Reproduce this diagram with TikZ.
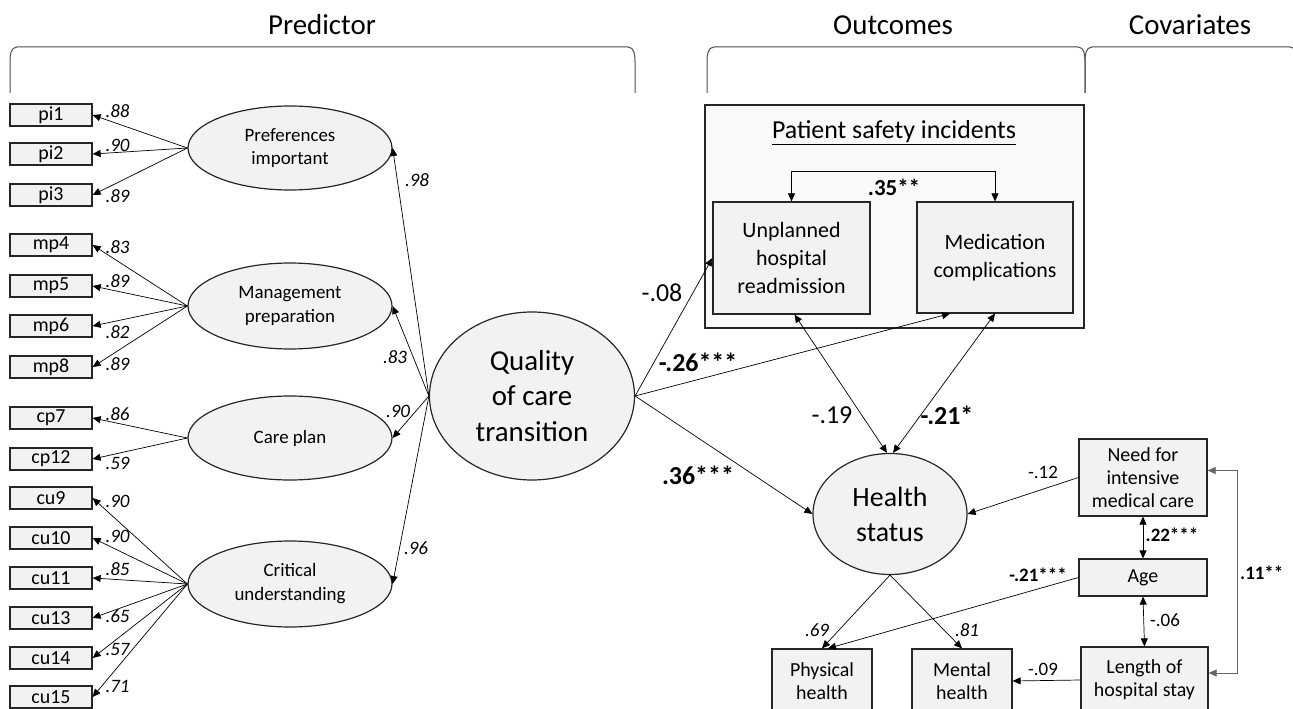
\documentclass[tikz,border=0pt]{standalone}
\usepackage{fontspec}
\setmainfont{Carlito}
\usetikzlibrary{shapes.geometric,arrows.meta,calc}

\begin{document}
\begin{tikzpicture}[x=1bp,y=-1bp,>={Triangle[length=8bp,width=7bp]},
	ind/.style={draw=black!85,line width=1.2bp,fill=black!5,minimum width=82bp,minimum height=22bp,inner sep=0pt,font=\fontsize{20}{22}\selectfont},
	lat/.style={ellipse,draw=black!85,line width=1.2bp,fill=black!5,minimum width=204bp,minimum height=84bp,inner sep=0pt,align=center,font=\fontsize{19}{24}\selectfont},
	obs/.style={draw=black!85,line width=1.2bp,fill=black!5,inner sep=0pt,align=center,font=\fontsize{20}{23}\selectfont},
	load/.style={font=\fontsize{19}{21}\selectfont\itshape,inner sep=0pt},
	coef/.style={font=\fontsize{19}{22}\selectfont,inner sep=0pt},
	bigcoef/.style={font=\fontsize{26}{30}\selectfont,inner sep=0pt},
	head/.style={font=\fontsize{29}{34}\selectfont,anchor=base,inner sep=0pt},
	bracket/.style={draw=black!70,line width=1bp},
	arr/.style={->,line width=0.7bp},
	dbl/.style={<->,line width=0.7bp}]
	\useasboundingbox (0,0) rectangle (1293,709);

	% headings
	\node[head] (hpred) at (322,35) {Predictor};
	\node[head] (hout) at (893,35) {Outcomes};
	\node[head] (hcov) at (1190,35) {Covariates};
	\draw[bracket] (10,93) -- (10,62) to[out=90,in=180] (17,47) -- (628,47) to[out=0,in=90] (635,62) -- (635,93);
	\draw[bracket] (707,93) -- (707,62) to[out=90,in=180] (714,47) -- (1078,47) to[out=0,in=90] (1085,62) -- (1085,93);
	\draw[bracket] (1085,93) -- (1085,62) to[out=90,in=180] (1092,47) -- (1290,47) to[out=0,in=90] (1297,62) -- (1297,93);

	% measurement model
	\foreach \ind/\y in {pi1/115,pi2/154,pi3/195,mp4/245,mp5/286,mp6/326,mp8/367,cp7/418,cp12/459,cu9/498,cu10/538,cu11/578,cu13/618,cu14/658,cu15/697}
		\node[ind] (\ind) at (51,\y) {\ind};
	\node[lat] (pref) at (290,148) {Preferences\\important};
	\node[lat,minimum height=86bp] (mana) at (290,306) {Management\\preparation};
	\node[lat] (care) at (290,438) {Care plan};
	\node[lat,minimum height=86bp] (crit) at (290,584) {Critical\\understanding};
	\foreach \fac/\ind/\val/\dy in {pref/pi1/.88/-4,pref/pi2/.90/-9,pref/pi3/.89/1,mana/mp4/.83/2,mana/mp5/.89/-5,mana/mp6/.82/6,mana/mp8/.89/-3,care/cp7/.86/-4,care/cp12/.59/4,crit/cu9/.90/3,crit/cu10/.90/-2,crit/cu11/.85/-9,crit/cu13/.65/-2,crit/cu14/.57/-9,crit/cu15/.71/-11}{
		\draw[arr] (\fac.west) -- (\ind.east);
		\node[load] (l\ind) at ($(\ind.east)+(25,\dy)$) {\val};
	}

	\node[lat,minimum width=205bp,minimum height=168bp,font=\fontsize{29}{36}\selectfont] (qct) at (532,396) {Quality\\of care\\transition};
	\draw[arr] (qct.west) -- (pref.east);
	\draw[arr] (qct.west) -- (mana.east);
	\draw[arr] (qct.west) -- (care.east);
	\draw[arr] (qct.west) -- (crit.east);
	\node[load] (lpref) at (417,180) {.98};
	\node[load] (lmana) at (395,357) {.83};
	\node[load] (lcare) at (398,411) {.90};
	\node[load] (lcrit) at (416,548) {.96};

	% outcomes
	\node[draw=black!85,line width=1.3bp,fill=black!2,minimum width=379bp,minimum height=223bp,inner sep=0pt] (psi) at (894.5,216.5) {};
	\node[font=\fontsize{26}{30}\selectfont,inner sep=0pt] (psit) at (894,133) {\underline{Patient safety incidents}};
	\node[obs,minimum width=157bp,minimum height=112bp,font=\fontsize{22}{28}\selectfont] (unpl) at (791.5,258) {Unplanned\\hospital\\readmission};
	\node[obs,minimum width=156bp,minimum height=111bp,font=\fontsize{22}{28}\selectfont] (med) at (995,257.5) {Medication\\complications};
	\draw[dbl] (unpl.north) -- ++(0,-30) -| (med.north);
	\node[bigcoef,font=\fontsize{23}{26}\selectfont\bfseries] (r35) at (894,187) {.35**};

	\node[lat,minimum width=154bp,minimum height=121bp,font=\fontsize{28}{35}\selectfont] (hs) at (890,514) {Health\\status};
	\node[obs,minimum width=100bp,minimum height=64bp] (phys) at (822,681) {Physical\\health};
	\node[obs,minimum width=100bp,minimum height=64bp] (ment) at (962,681) {Mental\\health};

	\draw[arr] (qct.east) -- (unpl.west);
	\draw[arr] (qct.east) -- ($(med.south)+(-45,0)$);
	\draw[arr] (qct.east) -- (hs.west);
	\node[bigcoef] (c08) at (662,293) {-.08};
	\node[bigcoef,font=\fontsize{26}{30}\selectfont\bfseries] (c26) at (698,362) {-.26***};
	\node[bigcoef,font=\fontsize{26}{30}\selectfont\bfseries] (c36) at (698,475) {.36***};

	\draw[dbl] ($(unpl.south)+(3,0)$) -- ($(hs.north)+(-3,0)$);
	\draw[dbl] (med.south) -- ($(hs.north)+(3,0)$);
	\node[bigcoef] (c19) at (832,415) {-.19};
	\node[bigcoef,font=\fontsize{26}{30}\selectfont\bfseries] (c21) at (947,415) {-.21*};

	\draw[arr] (hs.south) -- (phys.north);
	\draw[arr] (hs.south) -- (ment.north);
	\node[load] (l69) at (817,630) {.69};
	\node[load] (l81) at (967,630) {.81};

	% covariates
	\node[obs,minimum width=128bp,minimum height=77bp] (need) at (1143,477.5) {Need for\\intensive\\medical care};
	\node[obs,minimum width=128bp,minimum height=37bp] (age) at (1143,577.5) {Age};
	\node[obs,minimum width=127bp,minimum height=66bp] (len) at (1144.5,680) {Length of\\hospital stay};

	\draw[arr] (need.west) -- (hs.east);
	\draw[arr] (age.west) -- ($(phys.north)+(6,0)$);
	\draw[arr] (len.west) -- (ment.east);
	\draw[dbl] (need.south) -- (age.north);
	\draw[dbl] (age.south) -- (len.north);
	\draw[dbl,draw=black!60] ($(need.east)+(0,-7)$) -- ++(30,0) |- ($(len.east)+(0,-7)$);
	\node[coef] (c12) at (1043,472) {-.12};
	\node[coef,font=\fontsize{19}{22}\selectfont\bfseries] (c21b) at (1038,575) {-.21***};
	\node[coef,font=\fontsize{19}{22}\selectfont\bfseries] (c22) at (1172,535) {.22***};
	\node[coef] (c06) at (1165,620) {-.06};
	\node[coef] (c09) at (1043,669) {-.09};
	\node[coef,font=\fontsize{19}{22}\selectfont\bfseries,anchor=west] (c11) at (1240,573) {.11**};
\end{tikzpicture}
\end{document}
